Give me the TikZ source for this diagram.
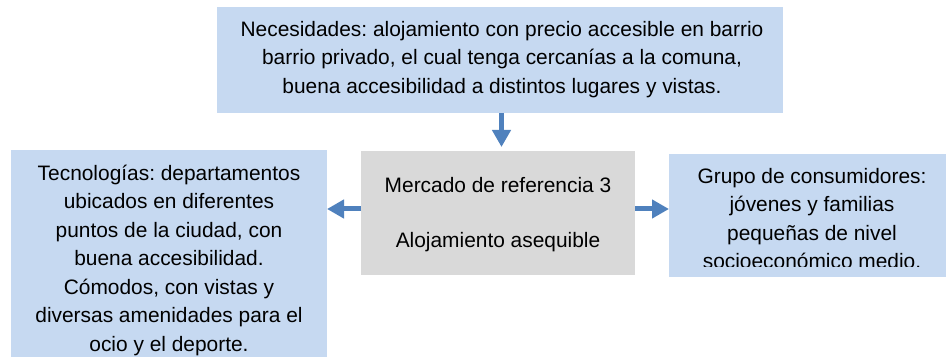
\documentclass[tikz,border=0pt]{standalone}
\usepackage{fontspec}
\setmainfont{Liberation Sans}
\usetikzlibrary{arrows.meta}
\definecolor{boxblue}{HTML}{C6D9F1}
\definecolor{boxgray}{HTML}{D9D9D9}
\definecolor{arrowblue}{HTML}{4F81BD}
\frenchspacing
\begin{document}
\begin{tikzpicture}[x=1pt,y=-1pt,
  bluebox/.style={fill=boxblue, draw=none, inner sep=0, outer sep=0},
  graybox/.style={fill=boxgray, draw=none, inner sep=0, outer sep=0},
  boxtext/.style={align=center, inner sep=0, font=\fontsize{20.9}{28.5}\selectfont\frenchspacing},
  conn/.style={draw=arrowblue, line width=5pt, -{Triangle[width=18pt,length=17pt]}}]
\useasboundingbox (0,0) rectangle (946,358);
\fill[white] (0,0) rectangle (946,358);
% boxes
\node[bluebox, minimum width=566pt, minimum height=106pt] (need) at (500,60) {};
\node[bluebox, minimum width=316pt, minimum height=207pt] (tec) at (169,253.5) {};
\node[graybox, minimum width=274pt, minimum height=124pt] (mer) at (498,213) {};
\node[bluebox, minimum width=277pt, minimum height=123pt] (gru) at (807.5,215.5) {};
% connectors
\coordinate (ns) at ([xshift=1.5pt]need.south);
\coordinate (mt) at (ns |- mer.north);
\draw[conn] (ns) -- ([yshift=4pt]mt);
\coordinate (mw) at ([yshift=4pt]mer.west);
\coordinate (me) at ([yshift=4pt]mer.east);
\draw[conn] (mw) -- (mw -| tec.east);
\draw[conn] (me) -- (me -| gru.west);
% texts
\node[boxtext] (needt) at (502,59.5) {Necesidades: alojamiento con precio accesible en barrio\\barrio privado, el cual tenga cercanías a la comuna,\\buena accesibilidad a distintos lugares y vistas.};
\node[boxtext] (tect) at (169,260) {Tecnologías: departamentos\\ubicados en diferentes\\puntos de la ciudad, con\\buena accesibilidad.\\Cómodos, con vistas y\\diversas amenidades para el\\ocio y el deporte.};
\node[boxtext] (mert) at (498,214.5) {Mercado de referencia 3\\[26.5pt]Alojamiento asequible};
\begin{scope}
\clip (669,154) rectangle (946,267);
\node[boxtext] (grut) at (812,218.5) {Grupo de consumidores:\\jóvenes y familias\\pequeñas de nivel\\socioeconómico medio.};
\end{scope}
\end{tikzpicture}
\end{document}
